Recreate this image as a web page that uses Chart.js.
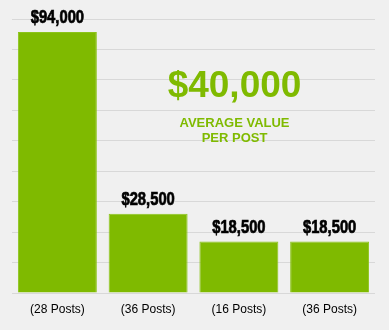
<!DOCTYPE html>
<html>
<head>
<meta charset="utf-8">
<script src="https://cdn.jsdelivr.net/npm/chart.js@4"></script>
<style>
  body { margin: 0; background: #f0f0f0; }
  canvas { display: block; }
</style>
</head>
<body>
<canvas id="postChart" width="389" height="330"></canvas>
<script>
// data
const categories = ['(28 Posts)', '(36 Posts)', '(16 Posts)', '(36 Posts)'];
const values = [94000, 28500, 18500, 18500];
const valueLabels = ['$94,000', '$28,500', '$18,500', '$18,500'];
const averageText = '$40,000';
const averageCaption = ['AVERAGE VALUE', 'PER POST'];

const GREEN = '#7fba00';

// value labels over bars + the big average note
const annotations = {
    id: 'annotations',
    afterDatasetsDraw(chart) {
        const ctx = chart.ctx;
        const meta = chart.getDatasetMeta(0);
        ctx.save();
        ctx.fillStyle = '#000';
        ctx.strokeStyle = '#000';
        ctx.lineWidth = 0.7;
        ctx.textAlign = 'center';
        ctx.textBaseline = 'alphabetic';
        ctx.font = 'bold 18px "Liberation Sans", Arial, sans-serif';
        meta.data.forEach((bar, i) => {
            ctx.save();
            ctx.translate(bar.x, bar.y - 9);
            ctx.scale(0.82, 1);
            ctx.fillText(valueLabels[i], 0, 0);
            ctx.strokeText(valueLabels[i], 0, 0);
            ctx.restore();
        });

        ctx.fillStyle = GREEN;
        ctx.font = 'bold 37px "Liberation Sans", Arial, sans-serif';
        ctx.fillText(averageText, 234.5, 97);
        ctx.font = 'bold 13px "Liberation Sans", Arial, sans-serif';
        ctx.fillText(averageCaption[0], 234.5, 127);
        ctx.fillText(averageCaption[1], 234.5, 142);
        ctx.restore();
    }
};

new Chart(document.getElementById('postChart'), {
    type: 'bar',
    data: {
        labels: categories,
        datasets: [{
            data: values,
            backgroundColor: GREEN,
            borderColor: '#8cc41a',
            borderWidth: 1,
            categoryPercentage: 1,
            barPercentage: 0.87
        }]
    },
    options: {
        responsive: false,
        animation: false,
        layout: { padding: { left: 12, right: 14, top: 19, bottom: 0 } },
        plugins: {
            legend: { display: false },
            tooltip: { enabled: false }
        },
        scales: {
            x: {
                grid: { display: false, drawTicks: false },
                border: { display: false },
                ticks: {
                    color: '#000',
                    padding: 9,
                    font: { family: '"Liberation Sans", Arial, sans-serif', size: 12 }
                },
                afterFit(scale) { scale.height = 37; }
            },
            y: {
                min: 0,
                max: 98640,
                grid: { color: '#d8d8d8', lineWidth: 1, drawTicks: false },
                border: { display: false },
                ticks: { display: false, stepSize: 10960 },
                afterFit(scale) { scale.width = 0; }
            }
        }
    },
    plugins: [annotations]
});
</script>
</body>
</html>
